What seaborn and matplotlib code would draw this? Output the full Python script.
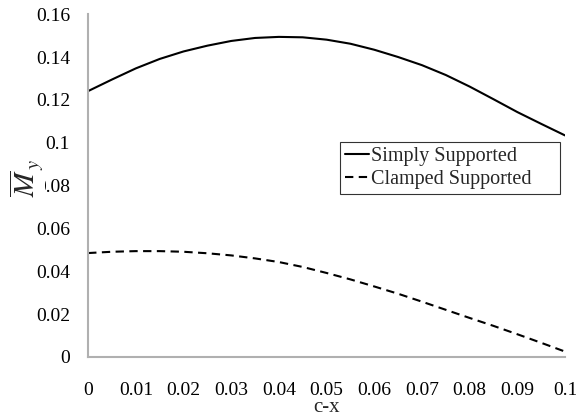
import matplotlib
matplotlib.use("Agg")
import matplotlib.pyplot as plt
import seaborn as sns
import pandas as pd

x_vals = [0.0, 0.005, 0.01, 0.015, 0.02, 0.025, 0.03, 0.035, 0.04, 0.045, 0.05,
          0.055, 0.06, 0.065, 0.07, 0.075, 0.08, 0.085, 0.09, 0.095, 0.1]
simply = [0.1241, 0.1295, 0.1347, 0.1391, 0.1426, 0.1453, 0.1475, 0.1489, 0.1494, 0.1492, 0.1481,
          0.1462, 0.1434, 0.1400, 0.1362, 0.1316, 0.1262, 0.1203, 0.1143, 0.1088, 0.1034]
clamped = [0.0485, 0.0491, 0.0494, 0.0494, 0.0491, 0.0484, 0.0474, 0.0460, 0.0443, 0.0420, 0.0392,
           0.0362, 0.0329, 0.0295, 0.0258, 0.0220, 0.0182, 0.0145, 0.0106, 0.0066, 0.0025]
series_names = ["Simply Supported", "Clamped Supported"]
x_ticks = [0, 0.01, 0.02, 0.03, 0.04, 0.05, 0.06, 0.07, 0.08, 0.09, 0.1]
x_tick_labels = ["0", "0.01", "0.02", "0.03", "0.04", "0.05", "0.06", "0.07", "0.08", "0.09", "0.1"]
y_ticks = [0, 0.02, 0.04, 0.06, 0.08, 0.1, 0.12, 0.14, 0.16]
y_tick_labels = ["0", "0.02", "0.04", "0.06", "0.08", "0.1", "0.12", "0.14", "0.16"]

df = pd.DataFrame({
    "x": x_vals * 2,
    "val": simply + clamped,
    "series": [series_names[0]] * len(x_vals) + [series_names[1]] * len(x_vals),
})

sns.set_style("white")
plt.rcParams["font.family"] = ["Liberation Serif", "DejaVu Serif"]
plt.rcParams["mathtext.fontset"] = "stix"

fig = plt.figure(figsize=(5.76, 4.17), dpi=100)
ax = fig.add_axes([0.153, 0.144, 0.828, 0.822])

sns.lineplot(data=df, x="x", y="val", hue="series", style="series",
             palette=["black", "black"], dashes=[(None, None), (4, 2.6)],
             linewidth=1.5, ax=ax, legend=True)

ax.set_xlim(0, 0.1)
ax.set_ylim(0, 0.16)
ax.set_xticks(x_ticks)
ax.set_xticklabels(x_tick_labels)
ax.set_yticks(y_ticks)
ax.set_yticklabels(y_tick_labels)
ax.tick_params(axis="both", direction="in", length=5, width=1, color="#b0b0b0",
               labelsize=14, labelcolor="black")
ax.tick_params(axis="y", pad=13)
ax.tick_params(axis="x", pad=18)

for s in ["top", "right"]:
    ax.spines[s].set_visible(False)
for s in ["left", "bottom"]:
    ax.spines[s].set_color("#b0b0b0")
    ax.spines[s].set_linewidth(1.5)

ax.set_xlabel("c-x", fontsize=15, labelpad=-1)
ax.set_ylabel(r"$\overline{M}_{\,y}$", fontsize=21, labelpad=0)
ax.yaxis.set_label_coords(-0.091, 0.522)
ax.yaxis.label.set_bbox(dict(facecolor="white", edgecolor="none", pad=0))

leg = ax.legend(loc="upper left", bbox_to_anchor=(0.528, 0.0, 0.461, 0.627), mode="expand",
                fontsize=14.5, frameon=True, fancybox=False, edgecolor="black",
                handlelength=1.2, handletextpad=0.1, borderpad=0.25, labelspacing=0.2,
                borderaxespad=0)
leg.get_frame().set_linewidth(0.8)

fig.savefig("out.png", dpi=100)
